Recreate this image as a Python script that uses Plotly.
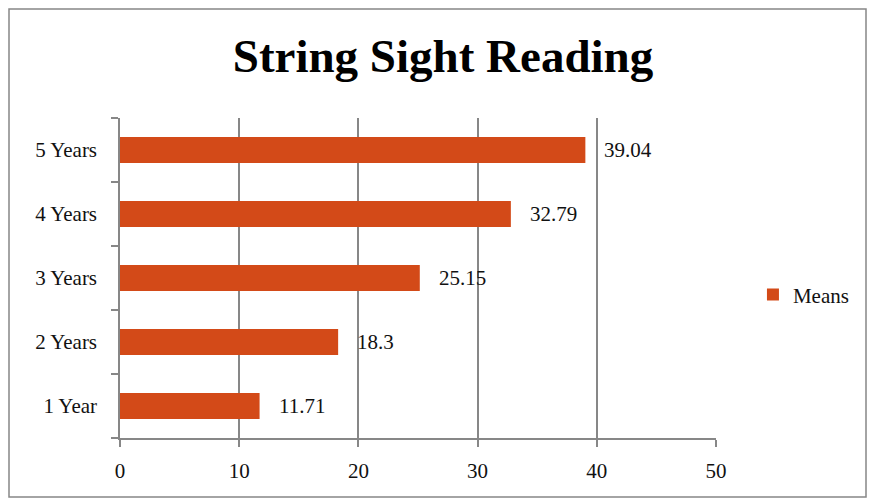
import plotly.graph_objects as go

categories = ["1 Year", "2 Years", "3 Years", "4 Years", "5 Years"]
means = [11.71, 18.3, 25.15, 32.79, 39.04]
labels = ["11.71", "18.3", "25.15", "32.79", "39.04"]
x_ticks = [0, 10, 20, 30, 40, 50]

BAR = "#D34A18"
GRID = "#878787"
FONT = "Liberation Serif"

W, H = 870, 500
L, R, T, B = 120, 154, 118, 62
pw, ph = W - L - R, H - T - B

fig = go.Figure()
fig.add_trace(go.Bar(
    x=means, y=categories, orientation="h", name="Means",
    marker=dict(color=BAR, line=dict(width=0)),
    hoverinfo="x+y",
))

for v, c, t in zip(means, categories, labels):
    fig.add_annotation(x=v, y=c, text=t, showarrow=False, xanchor="left",
                       yanchor="middle", xshift=17,
                       font=dict(family=FONT, size=21, color="#111"))

# outer border of chart area
fig.add_shape(type="rect", xref="paper", yref="paper",
              x0=(9 - L) / pw, x1=(866 - L) / pw,
              y0=(H - B - 497) / ph, y1=(H - B - 9) / ph,
              line=dict(color=GRID, width=1.5), layer="below")

fig.update_layout(
    width=W, height=H,
    margin=dict(l=L, r=R, t=T, b=B),
    paper_bgcolor="white", plot_bgcolor="white",
    bargap=0.59,
    font=dict(family=FONT, size=21, color="#111"),
    title=dict(text="<b>String Sight Reading</b>", xref="container", yref="container",
               x=443 / W, y=1 - 56 / H, xanchor="center", yanchor="middle",
               font=dict(family=FONT, size=47, color="#000")),
    showlegend=True,
    legend=dict(x=1.062, y=0.447, xanchor="left", yanchor="middle",
                font=dict(family=FONT, size=21, color="#111"),
                bgcolor="rgba(0,0,0,0)"),
    xaxis=dict(range=[0, 50], tickvals=x_ticks, ticktext=[str(v) for v in x_ticks],
               showgrid=True, gridcolor=GRID, gridwidth=1.5,
               showline=True, linecolor=GRID, linewidth=1.5,
               ticks="outside", ticklen=7, tickwidth=1.5, tickcolor=GRID,
               zeroline=False, ticklabelstandoff=6, fixedrange=True),
    yaxis=dict(categoryorder="array", categoryarray=categories,
               showgrid=False, showline=True, linecolor=GRID, linewidth=1.5,
               ticks="outside", ticklen=7, tickwidth=1.5, tickcolor=GRID,
               tickson="boundaries", ticklabelstandoff=17, fixedrange=True),
)

fig.write_html("out.html")
